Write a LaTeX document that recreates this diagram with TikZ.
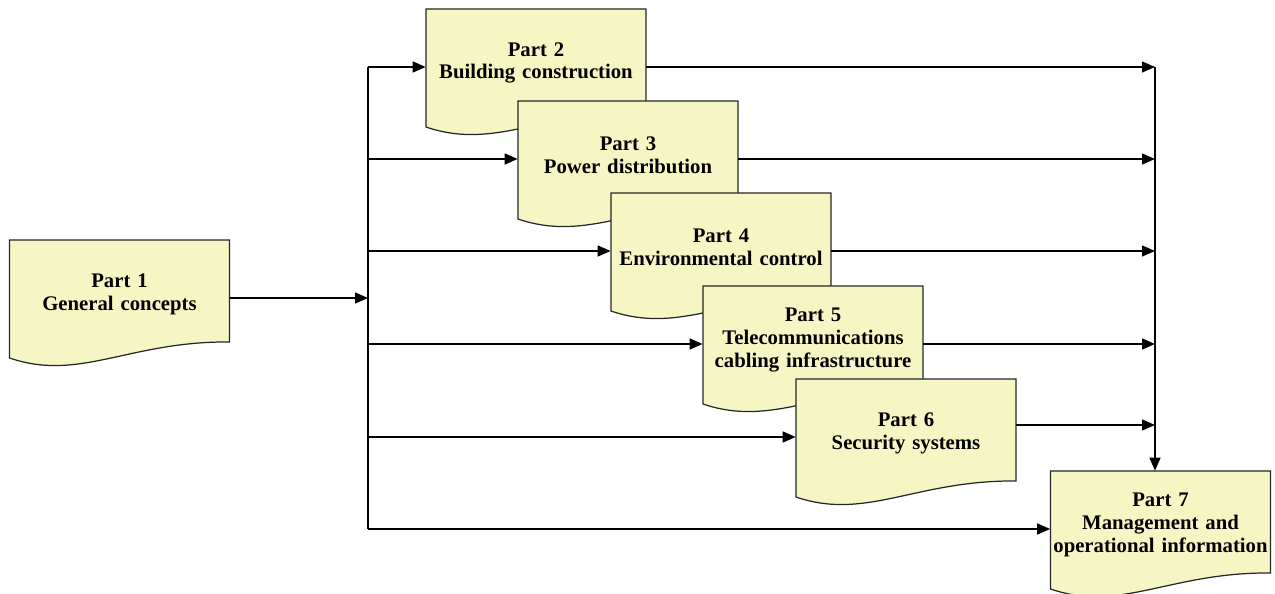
\documentclass[tikz,border=0pt]{standalone}
\usepackage{fontspec}
\setmainfont{Liberation Serif}
\usepackage{tikz}
\usetikzlibrary{calc, arrows.meta}
\definecolor{docyellow}{RGB}{246,246,196}
\tikzstyle{docshape} = [draw=black!85, fill=docyellow, line width=0.7pt]
\tikzstyle{doctext}  = [rectangle, text width=4.4cm, minimum height=2.16cm, inner sep=0pt, align=center, font=\fontsize{11.8}{13}\selectfont\bfseries]
\tikzstyle{arrow}    = [line width=0.8pt, -{Triangle[length=0.26cm, width=0.22cm]}]
\tikzstyle{wire}     = [line width=0.8pt]

\begin{document}
\begin{tikzpicture}[x=0.02cm, y=-0.02cm]
    \useasboundingbox (0,0) rectangle (1275,594);

    % document boxes, each one drawn over the one before
    \foreach \i/\x/\y/\txt in {
        1/119.5/294/{Part 1\\General concepts},
        2/536/63/{Part 2\\Building construction},
        3/628/155/{Part 3\\Power distribution},
        4/721/247/{Part 4\\Environmental control},
        5/813/340/{Part 5\\Telecommunications\\cabling infrastructure},
        6/906/433/{Part 6\\Security systems},
        7/1160.5/525/{Part 7\\Management and\\operational information}} {
      \begin{scope}[shift={(\x,\y)}]
        \path[docshape] (-110,-54) -- (110,-54) -- (110,48)
          .. controls (10,47) and (-40,88) .. (-110,64) -- cycle;
      \end{scope}
      \node (p\i) [doctext] at (\x,\y) {\txt};
    }

    \coordinate (split) at (368,298);
    \coordinate (join)  at (1155,67);

    \draw [arrow] ($(p1.east)+(0,4)$) -- (split);
    \foreach \i in {2,...,7} {
      \coordinate (in\i) at ($(p\i.west)+(0,4)$);
      \draw [arrow] (in\i -| split) -- (in\i);
    }
    \draw [wire] (in2 -| split) -- (in7 -| split);

    \foreach \i/\dy in {2/4, 3/4, 4/4, 5/4, 6/-8} {
      \coordinate (out\i) at ($(p\i.east)+(0,\dy)$);
      \draw [arrow] (out\i) -- (out\i -| join);
    }
    \draw [arrow] (join) -- (join |- p7.north);

  \end{tikzpicture}
\end{document}
